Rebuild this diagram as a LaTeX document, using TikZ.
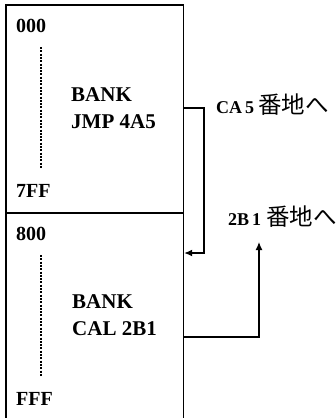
\documentclass[tikz,border=0pt]{standalone}
\usepackage{fontspec}
\setmainfont{Liberation Serif}
\newfontfamily\cjk{Noto Sans CJK JP}
\usetikzlibrary{arrows.meta}
\begin{document}
\begin{tikzpicture}[x=1pt,y=-1pt,
  lbl/.style={anchor=base west,inner sep=0pt,font=\fontsize{21}{22}\selectfont\bfseries},
  addr/.style={anchor=base west,inner sep=0pt,font=\fontsize{20}{22}\selectfont\bfseries},
  jlbl/.style={anchor=base west,inner sep=0pt,font=\fontsize{18}{20}\selectfont\bfseries},
  boxline/.style={draw,line width=1.5pt,inner sep=0pt,anchor=north west,minimum width=177.7pt},
  conn/.style={line width=1.3pt},
  dots/.style={line width=1.1pt,dash pattern=on 2pt off 1.3pt},
  tip/.style={-{Latex[length=8pt,width=7pt]}}]
\clip (0,0) rectangle (336,418);
\node[boxline,minimum height=208pt] (bank1) at (5,4) {};
\node[boxline,minimum height=260pt] (bank2) at (5,212) {};
% upper bank
\node[addr] (a000) at (16,32) {000};
\node[lbl] (t1a) at (71,101) {BANK};
\node[lbl] (t1b) at (71,128) {JMP\ 4A5};
\node[addr] (a7ff) at (16,197) {7FF};
\draw[dots] (41,47) -- (41,168);
% lower bank
\node[addr] (a800) at (16,240) {800};
\node[lbl] (t2a) at (72,308) {BANK};
\node[lbl] (t2b) at (72,335) {CAL 2B1};
\node[addr] (afff) at (16,405) {FFF};
\draw[dots] (41,255) -- (41,377);
% labels
\node[jlbl] (ca5) at (216,113) {CA\,5\hspace{4pt}{\cjk\mdseries\fontsize{23.5}{24}\selectfont 番地へ}};
\node[jlbl] (b21) at (228,225) {2B\,1\hspace{5pt}{\cjk\mdseries\fontsize{23.5}{24}\selectfont 番地へ}};
% connectors
\draw[conn,tip] (bank1.east |- 0,108) -- (204,108) -- (204,253) -- (bank2.east |- 0,253);
\draw[conn,tip] (bank2.east |- 0,337) -| (259,242);
\end{tikzpicture}
\end{document}
